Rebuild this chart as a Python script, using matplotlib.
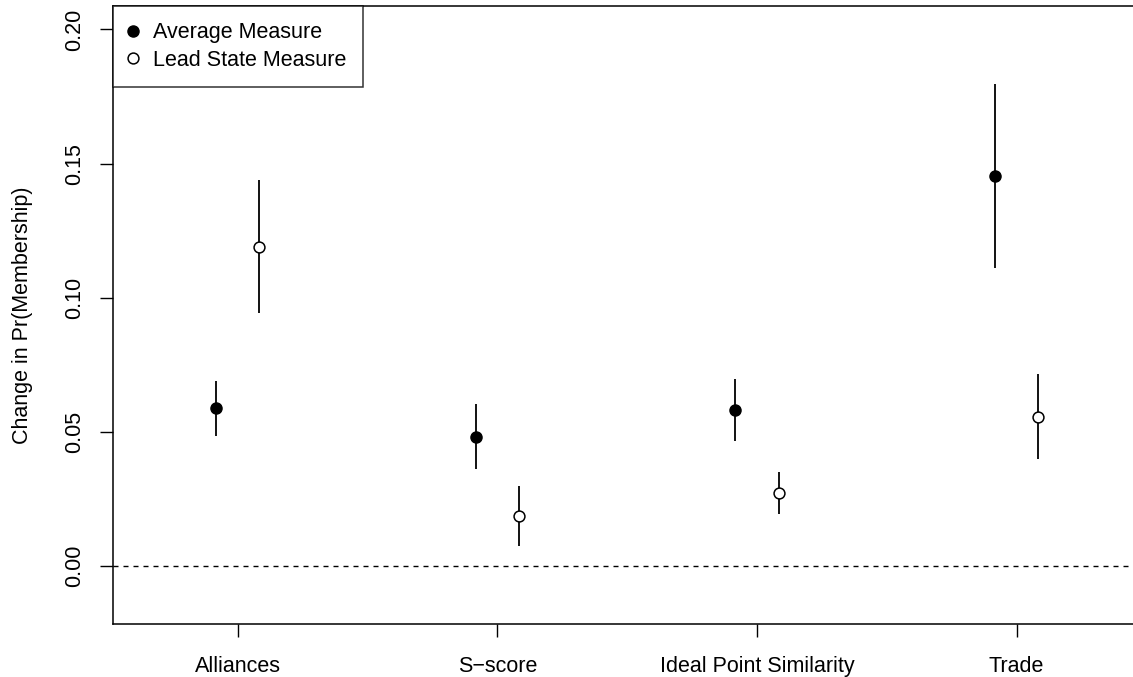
import matplotlib
matplotlib.use("Agg")
import matplotlib.pyplot as plt
import numpy as np

plt.rcParams['font.family'] = ['Liberation Sans', 'DejaVu Sans']

# data
categories = ["Alliances", "S\u2212score", "Ideal Point Similarity", "Trade"]
avg_est = [0.0588, 0.0482, 0.0582, 0.1454]
avg_lo = [0.0485, 0.0360, 0.0467, 0.1110]
avg_hi = [0.0690, 0.0603, 0.0697, 0.1797]
lead_est = [0.1189, 0.0188, 0.0273, 0.0557]
lead_lo = [0.0942, 0.0075, 0.0193, 0.0399]
lead_hi = [0.1439, 0.0299, 0.0352, 0.0715]
yticks = [0.00, 0.05, 0.10, 0.15, 0.20]

W, H = 1133, 677
fig = plt.figure(figsize=(W / 100, H / 100), dpi=100)
ax = fig.add_axes([113 / W, (H - 624) / H, (1136 - 113) / W, (624 - 6) / H])

x = np.arange(1, len(categories) + 1)
off = 0.083

ax.vlines(x - off, avg_lo, avg_hi, color='black', lw=1.3)
ax.vlines(x + off, lead_lo, lead_hi, color='black', lw=1.3)
ax.plot(x - off, avg_est, 'o', color='black', ms=8, label='Average Measure', zorder=3)
ax.plot(x + off, lead_est, 'o', mfc='white', mec='black', mew=1.1, ms=7.8,
        label='Lead State Measure', zorder=3)

ax.axhline(0, color='black', lw=1, dashes=(3.6, 3.6))

ax.set_xlim(0.5195, 4.46)
ax.set_ylim(-0.02162, 0.20876)

ax.set_xticks(x)
ax.set_xticklabels(categories, fontsize=15.5)
ax.set_yticks(yticks)
ax.set_yticklabels(["%.2f" % v for v in yticks], fontsize=15.5, rotation=90, va='center')
ax.tick_params(axis='both', length=9.7, width=1, direction='out', color='black')
ax.tick_params(axis='x', pad=13.5)
ax.tick_params(axis='y', pad=10.5)
for s in ax.spines.values():
    s.set_linewidth(1.1)

ax.set_ylabel("Change in Pr(Membership)", fontsize=15.5, labelpad=22)

leg = ax.legend(loc='upper left', bbox_to_anchor=(0, 1), fontsize=15.5, frameon=True,
                fancybox=False, edgecolor='black', borderaxespad=0, handlelength=0.36,
                handletextpad=0.75, borderpad=0.75, labelspacing=0.3)
leg.get_frame().set_linewidth(1.1)

fig.savefig('out.png', dpi=100)
